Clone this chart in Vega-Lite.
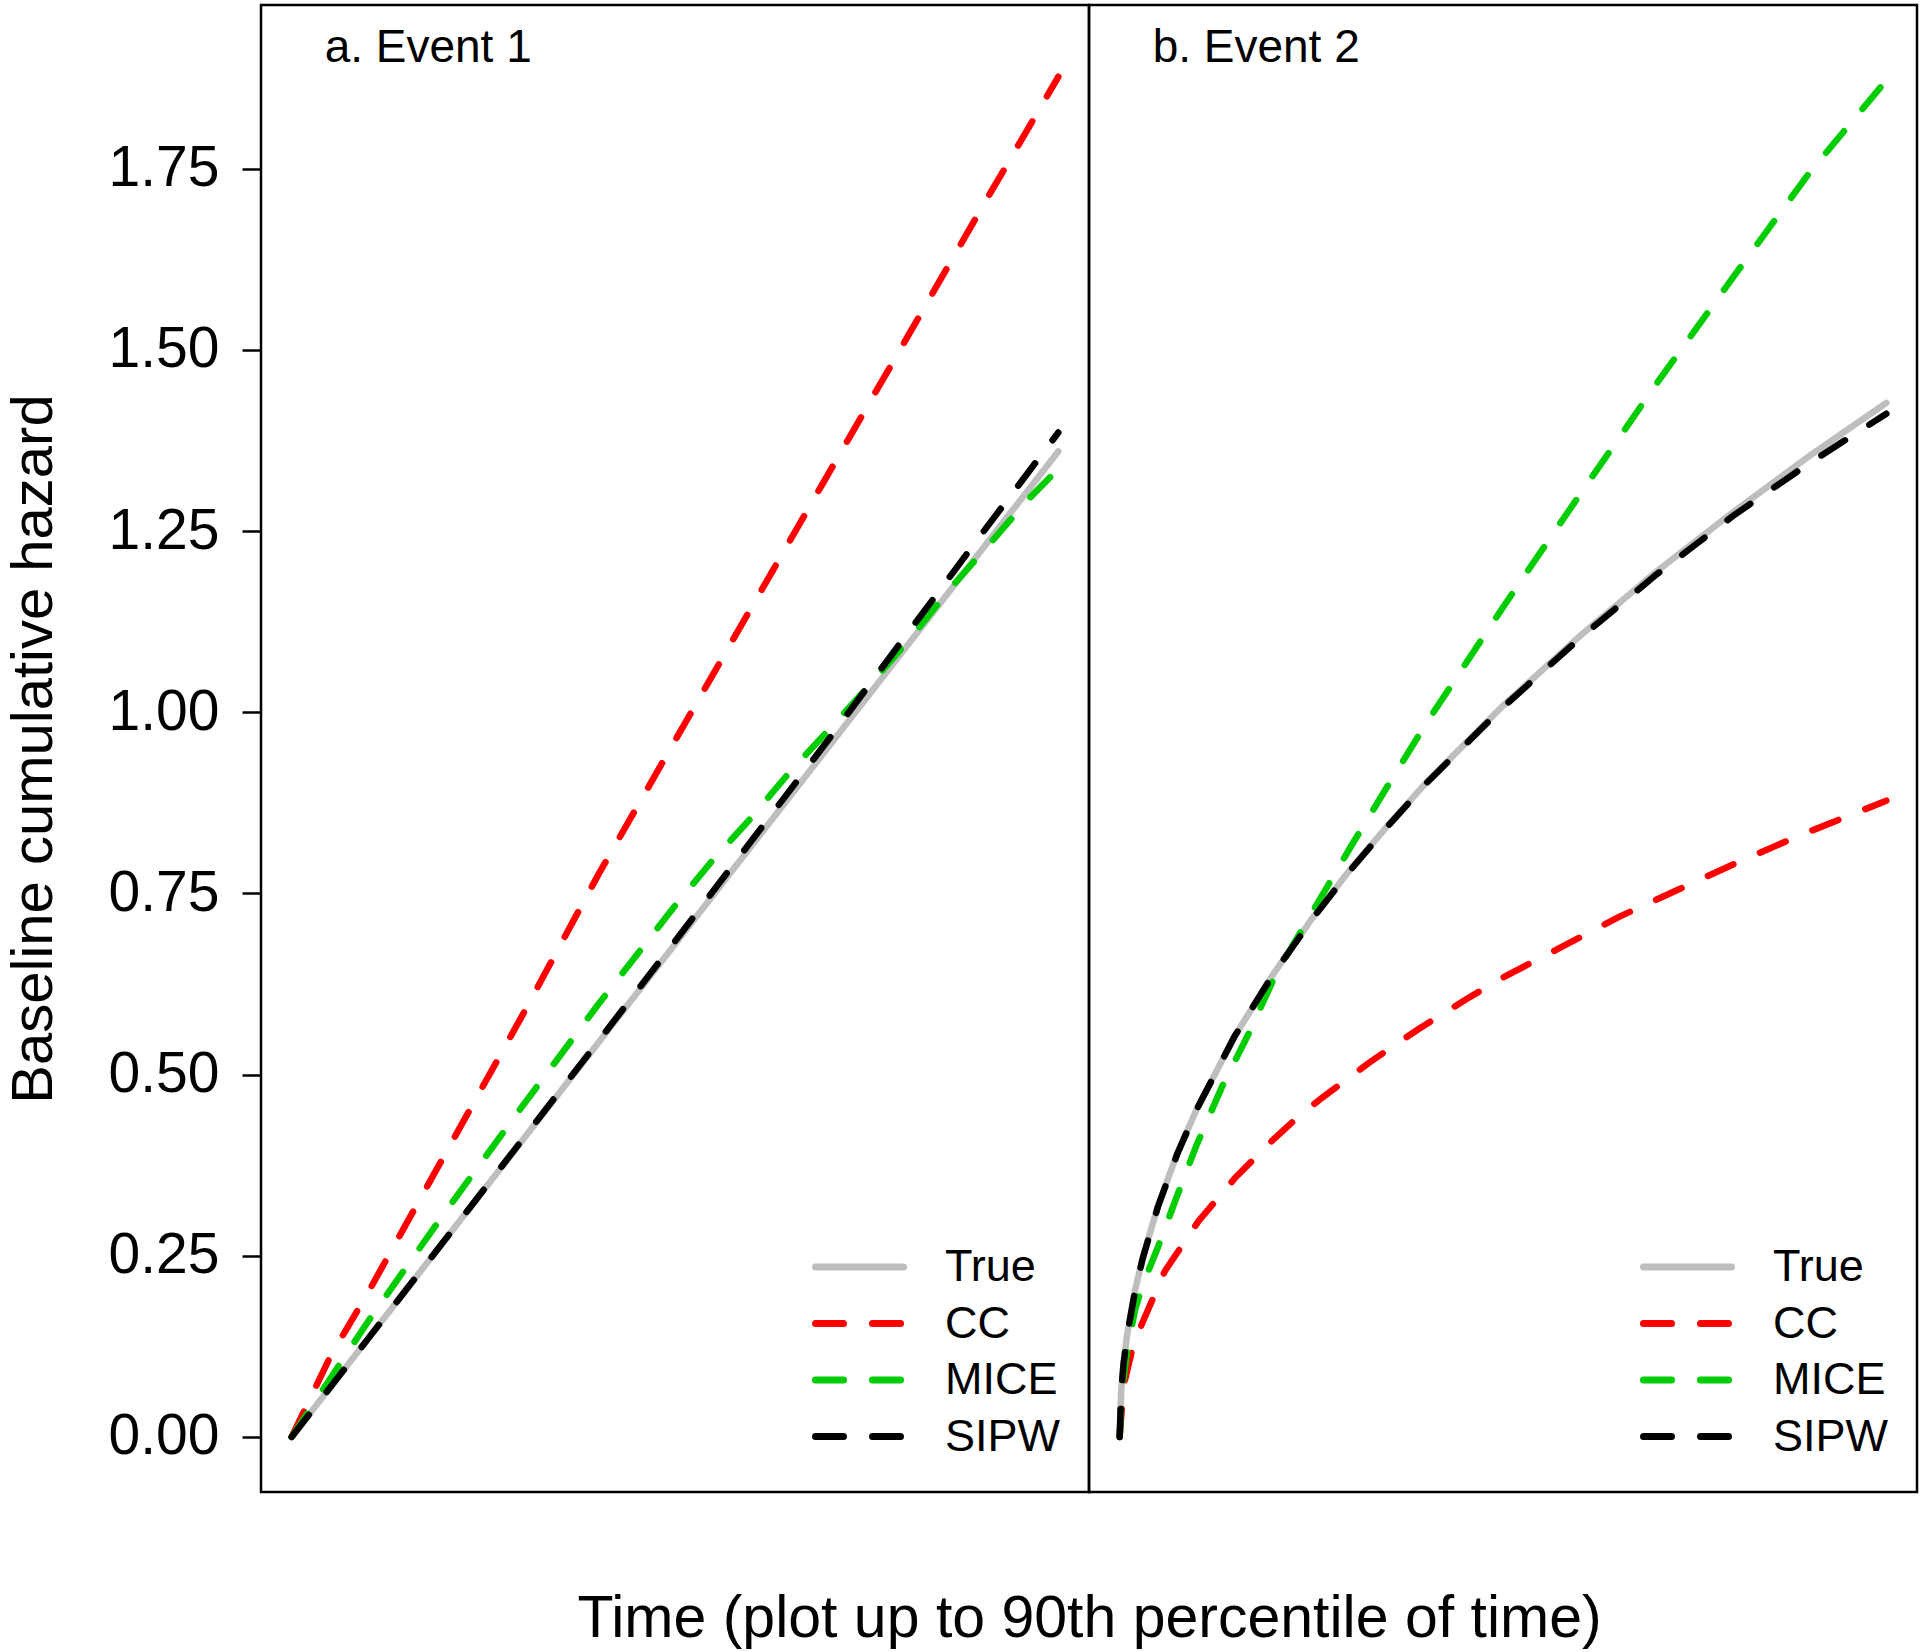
{
  "$schema": "https://vega.github.io/schema/vega-lite/v6.json",
  "padding": {"left": 3, "top": 3, "right": 0, "bottom": 0},
  "background": "white",
  "bounds": "flush",
  "spacing": 0,
  "config": {
    "font": "Liberation Sans",
    "view": {"stroke": "black", "strokeWidth": 2.5},
    "concat": {"spacing": 0}
  },
  "datasets": {
    "event1": [
      {"method": "True", "time": 0, "hazard": 0},
      {"method": "True", "time": 0.1, "hazard": 0.136},
      {"method": "True", "time": 0.2, "hazard": 0.272},
      {"method": "True", "time": 0.3, "hazard": 0.408},
      {"method": "True", "time": 0.4, "hazard": 0.544},
      {"method": "True", "time": 0.5, "hazard": 0.68},
      {"method": "True", "time": 0.6, "hazard": 0.816},
      {"method": "True", "time": 0.7, "hazard": 0.952},
      {"method": "True", "time": 0.8, "hazard": 1.088},
      {"method": "True", "time": 0.9, "hazard": 1.224},
      {"method": "True", "time": 1.0, "hazard": 1.36},
      {"method": "CC", "time": 0, "hazard": 0},
      {"method": "CC", "time": 0.05, "hazard": 0.11},
      {"method": "CC", "time": 0.1, "hazard": 0.2},
      {"method": "CC", "time": 0.2, "hazard": 0.39},
      {"method": "CC", "time": 0.3, "hazard": 0.58},
      {"method": "CC", "time": 0.4, "hazard": 0.776},
      {"method": "CC", "time": 0.5, "hazard": 0.961},
      {"method": "CC", "time": 0.6, "hazard": 1.145},
      {"method": "CC", "time": 0.7, "hazard": 1.329},
      {"method": "CC", "time": 0.8, "hazard": 1.512},
      {"method": "CC", "time": 0.9, "hazard": 1.696},
      {"method": "CC", "time": 1.0, "hazard": 1.877},
      {"method": "MICE", "time": 0, "hazard": 0},
      {"method": "MICE", "time": 0.05, "hazard": 0.08},
      {"method": "MICE", "time": 0.1, "hazard": 0.16},
      {"method": "MICE", "time": 0.2, "hazard": 0.31},
      {"method": "MICE", "time": 0.3, "hazard": 0.455},
      {"method": "MICE", "time": 0.4, "hazard": 0.597},
      {"method": "MICE", "time": 0.5, "hazard": 0.733},
      {"method": "MICE", "time": 0.55, "hazard": 0.797},
      {"method": "MICE", "time": 0.6, "hazard": 0.855},
      {"method": "MICE", "time": 0.65, "hazard": 0.918},
      {"method": "MICE", "time": 0.7, "hazard": 0.975},
      {"method": "MICE", "time": 0.76, "hazard": 1.045},
      {"method": "MICE", "time": 0.81, "hazard": 1.106},
      {"method": "MICE", "time": 0.86, "hazard": 1.172},
      {"method": "MICE", "time": 0.91, "hazard": 1.232},
      {"method": "MICE", "time": 0.96, "hazard": 1.293},
      {"method": "MICE", "time": 1.0, "hazard": 1.336},
      {"method": "SIPW", "time": 0, "hazard": 0},
      {"method": "SIPW", "time": 0.1, "hazard": 0.136},
      {"method": "SIPW", "time": 0.2, "hazard": 0.272},
      {"method": "SIPW", "time": 0.3, "hazard": 0.409},
      {"method": "SIPW", "time": 0.4, "hazard": 0.546},
      {"method": "SIPW", "time": 0.5, "hazard": 0.684},
      {"method": "SIPW", "time": 0.6, "hazard": 0.823},
      {"method": "SIPW", "time": 0.7, "hazard": 0.962},
      {"method": "SIPW", "time": 0.8, "hazard": 1.104},
      {"method": "SIPW", "time": 0.9, "hazard": 1.246},
      {"method": "SIPW", "time": 1.0, "hazard": 1.386}
    ],
    "event2": [
      {"method": "True", "time": 0, "hazard": 0},
      {"method": "True", "time": 0.002, "hazard": 0.064},
      {"method": "True", "time": 0.005, "hazard": 0.101},
      {"method": "True", "time": 0.01, "hazard": 0.143},
      {"method": "True", "time": 0.02, "hazard": 0.202},
      {"method": "True", "time": 0.03, "hazard": 0.247},
      {"method": "True", "time": 0.05, "hazard": 0.319},
      {"method": "True", "time": 0.075, "hazard": 0.391},
      {"method": "True", "time": 0.1, "hazard": 0.451},
      {"method": "True", "time": 0.15, "hazard": 0.553},
      {"method": "True", "time": 0.2, "hazard": 0.638},
      {"method": "True", "time": 0.25, "hazard": 0.714},
      {"method": "True", "time": 0.3, "hazard": 0.782},
      {"method": "True", "time": 0.35, "hazard": 0.844},
      {"method": "True", "time": 0.4, "hazard": 0.903},
      {"method": "True", "time": 0.5, "hazard": 1.009},
      {"method": "True", "time": 0.6, "hazard": 1.105},
      {"method": "True", "time": 0.7, "hazard": 1.194},
      {"method": "True", "time": 0.8, "hazard": 1.276},
      {"method": "True", "time": 0.9, "hazard": 1.354},
      {"method": "True", "time": 1.0, "hazard": 1.427},
      {"method": "CC", "time": 0, "hazard": 0},
      {"method": "CC", "time": 0.005, "hazard": 0.07},
      {"method": "CC", "time": 0.016, "hazard": 0.119},
      {"method": "CC", "time": 0.029, "hazard": 0.156},
      {"method": "CC", "time": 0.059, "hazard": 0.229},
      {"method": "CC", "time": 0.103, "hazard": 0.298},
      {"method": "CC", "time": 0.151, "hazard": 0.358},
      {"method": "CC", "time": 0.2, "hazard": 0.41},
      {"method": "CC", "time": 0.234, "hazard": 0.443},
      {"method": "CC", "time": 0.264, "hazard": 0.468},
      {"method": "CC", "time": 0.326, "hazard": 0.517},
      {"method": "CC", "time": 0.39, "hazard": 0.563},
      {"method": "CC", "time": 0.452, "hazard": 0.604},
      {"method": "CC", "time": 0.5, "hazard": 0.634},
      {"method": "CC", "time": 0.587, "hazard": 0.682},
      {"method": "CC", "time": 0.65, "hazard": 0.717},
      {"method": "CC", "time": 0.726, "hazard": 0.754},
      {"method": "CC", "time": 0.8, "hazard": 0.79},
      {"method": "CC", "time": 0.887, "hazard": 0.83},
      {"method": "CC", "time": 1.0, "hazard": 0.878},
      {"method": "MICE", "time": 0, "hazard": 0},
      {"method": "MICE", "time": 0.002, "hazard": 0.045},
      {"method": "MICE", "time": 0.005, "hazard": 0.08},
      {"method": "MICE", "time": 0.01, "hazard": 0.12},
      {"method": "MICE", "time": 0.02, "hazard": 0.175},
      {"method": "MICE", "time": 0.03, "hazard": 0.21},
      {"method": "MICE", "time": 0.05, "hazard": 0.262},
      {"method": "MICE", "time": 0.075, "hazard": 0.333},
      {"method": "MICE", "time": 0.1, "hazard": 0.402},
      {"method": "MICE", "time": 0.133, "hazard": 0.482},
      {"method": "MICE", "time": 0.168, "hazard": 0.556},
      {"method": "MICE", "time": 0.204, "hazard": 0.639},
      {"method": "MICE", "time": 0.25, "hazard": 0.722},
      {"method": "MICE", "time": 0.3, "hazard": 0.812},
      {"method": "MICE", "time": 0.35, "hazard": 0.899},
      {"method": "MICE", "time": 0.4, "hazard": 0.985},
      {"method": "MICE", "time": 0.5, "hazard": 1.145},
      {"method": "MICE", "time": 0.6, "hazard": 1.3},
      {"method": "MICE", "time": 0.7, "hazard": 1.453},
      {"method": "MICE", "time": 0.8, "hazard": 1.6},
      {"method": "MICE", "time": 0.9, "hazard": 1.745},
      {"method": "MICE", "time": 1.0, "hazard": 1.872},
      {"method": "SIPW", "time": 0, "hazard": 0},
      {"method": "SIPW", "time": 0.002, "hazard": 0.062},
      {"method": "SIPW", "time": 0.005, "hazard": 0.1},
      {"method": "SIPW", "time": 0.01, "hazard": 0.142},
      {"method": "SIPW", "time": 0.02, "hazard": 0.201},
      {"method": "SIPW", "time": 0.03, "hazard": 0.246},
      {"method": "SIPW", "time": 0.05, "hazard": 0.318},
      {"method": "SIPW", "time": 0.075, "hazard": 0.39},
      {"method": "SIPW", "time": 0.1, "hazard": 0.451},
      {"method": "SIPW", "time": 0.15, "hazard": 0.553},
      {"method": "SIPW", "time": 0.2, "hazard": 0.638},
      {"method": "SIPW", "time": 0.25, "hazard": 0.713},
      {"method": "SIPW", "time": 0.3, "hazard": 0.781},
      {"method": "SIPW", "time": 0.35, "hazard": 0.843},
      {"method": "SIPW", "time": 0.4, "hazard": 0.902},
      {"method": "SIPW", "time": 0.5, "hazard": 1.007},
      {"method": "SIPW", "time": 0.6, "hazard": 1.102},
      {"method": "SIPW", "time": 0.7, "hazard": 1.19},
      {"method": "SIPW", "time": 0.8, "hazard": 1.271},
      {"method": "SIPW", "time": 0.9, "hazard": 1.344},
      {"method": "SIPW", "time": 1.0, "hazard": 1.412}
    ],
    "labels1": [{"panel": "a. Event 1"}],
    "labels2": [{"panel": "b. Event 2"}]
  },
  "hconcat": [
    {
      "width": 828,
      "height": 1487,
      "layer": [
        {
          "data": {"name": "event1"},
          "mark": {"type": "line", "strokeWidth": 6.5, "strokeCap": "round"},
          "encoding": {
            "x": {"field": "time", "type": "quantitative", "scale": {"domain": [-0.04, 1.04], "nice": false, "zero": false},
              "axis": {"title": "Time (plot up to 90th percentile of time)", "labels": false, "ticks": false, "domain": false, "grid": false, "titleFontSize": 59, "titleFontWeight": "normal", "titleColor": "black", "titleX": 828, "titleY": 144, "titleAlign": "center", "titleBaseline": "alphabetic"}},
            "y": {"field": "hazard", "type": "quantitative", "scale": {"domain": [-0.076, 1.976], "nice": false, "zero": false},
              "axis": {"title": "Baseline cumulative hazard", "values": [0, 0.25, 0.5, 0.75, 1, 1.25, 1.5, 1.75], "format": ".2f", "grid": false, "domain": false, "tickSize": 19, "tickWidth": 2.5, "tickColor": "black", "labelPadding": 23, "labelFontSize": 57, "labelColor": "black", "titleFontSize": 58, "titleFontWeight": "normal", "titleColor": "black", "titlePadding": 45}},
            "color": {"field": "method", "type": "nominal", "scale": {"domain": ["True", "CC", "MICE", "SIPW"], "range": ["#BEBEBE", "#FF0000", "#00CD00", "#000000"]},
              "legend": {"title": null, "orient": "bottom-right", "offset": 28, "padding": 0, "symbolType": "stroke", "symbolSize": 7744, "symbolStrokeWidth": 7, "labelFontSize": 45, "labelOffset": 38, "labelColor": "black", "rowPadding": 2.5, "clipHeight": 54, "labelLimit": 0, "encode": {"symbols": {"update": {"strokeCap": {"value": "round"}}}}}},
            "strokeDash": {"field": "method", "type": "nominal", "scale": {"domain": ["True", "CC", "MICE", "SIPW"], "range": [[1, 0], [28, 29], [28, 29], [28, 29]]},
              "legend": {"title": null, "orient": "bottom-right", "offset": 28, "padding": 0, "symbolType": "stroke", "symbolSize": 7744, "symbolStrokeWidth": 7, "labelFontSize": 45, "labelOffset": 38, "labelColor": "black", "rowPadding": 2.5, "clipHeight": 54, "labelLimit": 0}}
          }
        },
        {
          "data": {"name": "labels1"},
          "mark": {"type": "text", "align": "left", "baseline": "alphabetic", "fontSize": 46, "color": "black"},
          "encoding": {
            "x": {"datum": 0.043, "type": "quantitative", "scale": {"domain": [-0.04, 1.04], "nice": false, "zero": false},
              "axis": {"title": "Time (plot up to 90th percentile of time)", "labels": false, "ticks": false, "domain": false, "grid": false, "titleFontSize": 59, "titleFontWeight": "normal", "titleColor": "black", "titleX": 828, "titleY": 144, "titleAlign": "center", "titleBaseline": "alphabetic"}},
            "y": {"datum": 1.897, "type": "quantitative", "scale": {"domain": [-0.076, 1.976], "nice": false, "zero": false},
              "axis": {"title": "Baseline cumulative hazard", "values": [0, 0.25, 0.5, 0.75, 1, 1.25, 1.5, 1.75], "format": ".2f", "grid": false, "domain": false, "tickSize": 19, "tickWidth": 2.5, "tickColor": "black", "labelPadding": 23, "labelFontSize": 57, "labelColor": "black", "titleFontSize": 58, "titleFontWeight": "normal", "titleColor": "black", "titlePadding": 45}},
            "text": {"field": "panel", "type": "nominal"}
          }
        }
      ]
    },
    {
      "width": 828,
      "height": 1487,
      "layer": [
        {
          "data": {"name": "event2"},
          "mark": {"type": "line", "strokeWidth": 6.5, "strokeCap": "round"},
          "encoding": {
            "x": {"field": "time", "type": "quantitative", "scale": {"domain": [-0.04, 1.04], "nice": false, "zero": false}, "axis": null},
            "y": {"field": "hazard", "type": "quantitative", "scale": {"domain": [-0.076, 1.976], "nice": false, "zero": false}, "axis": null},
            "color": {"field": "method", "type": "nominal", "scale": {"domain": ["True", "CC", "MICE", "SIPW"], "range": ["#BEBEBE", "#FF0000", "#00CD00", "#000000"]},
              "legend": {"title": null, "orient": "bottom-right", "offset": 28, "padding": 0, "symbolType": "stroke", "symbolSize": 7744, "symbolStrokeWidth": 7, "labelFontSize": 45, "labelOffset": 38, "labelColor": "black", "rowPadding": 2.5, "clipHeight": 54, "labelLimit": 0, "encode": {"symbols": {"update": {"strokeCap": {"value": "round"}}}}}},
            "strokeDash": {"field": "method", "type": "nominal", "scale": {"domain": ["True", "CC", "MICE", "SIPW"], "range": [[1, 0], [28, 29], [28, 29], [28, 29]]},
              "legend": {"title": null, "orient": "bottom-right", "offset": 28, "padding": 0, "symbolType": "stroke", "symbolSize": 7744, "symbolStrokeWidth": 7, "labelFontSize": 45, "labelOffset": 38, "labelColor": "black", "rowPadding": 2.5, "clipHeight": 54, "labelLimit": 0}}
          }
        },
        {
          "data": {"name": "labels2"},
          "mark": {"type": "text", "align": "left", "baseline": "alphabetic", "fontSize": 46, "color": "black"},
          "encoding": {
            "x": {"datum": 0.043, "type": "quantitative", "scale": {"domain": [-0.04, 1.04], "nice": false, "zero": false}, "axis": null},
            "y": {"datum": 1.897, "type": "quantitative", "scale": {"domain": [-0.076, 1.976], "nice": false, "zero": false}, "axis": null},
            "text": {"field": "panel", "type": "nominal"}
          }
        }
      ]
    }
  ],
  "resolve": {
    "scale": {"color": "independent", "strokeDash": "independent", "x": "independent", "y": "independent"},
    "legend": {"color": "independent", "strokeDash": "independent"}
  }
}
